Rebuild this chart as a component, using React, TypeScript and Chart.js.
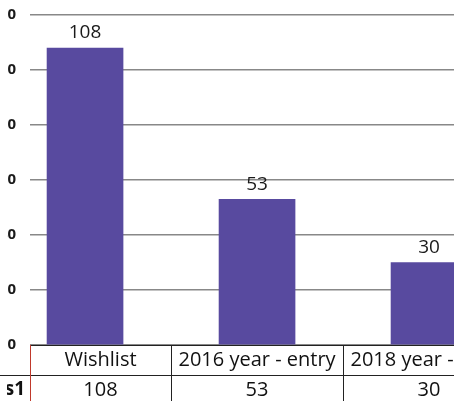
import React, { useEffect, useRef } from "react";
import { Chart, registerables } from "chart.js";

Chart.register(...registerables);

const categories = ["Wishlist", "2016 year - entry", "2018 year - entry"];
const seriesName = "Series1";
const values = [108, 53, 30];
const yMin = 0;
const yMax = 120;
const yStep = 20;

const OFFSET = 46; // canvas shifted left so only the crop is visible
const CANVAS_W = 600;
const CANVAS_H = 401;
const FONT = "'Open Sans', Lato, sans-serif";
const BAR_COLOR = "#584a9f";

export default function App() {
  const ref = useRef<HTMLCanvasElement | null>(null);

  useEffect(() => {
    document.body.style.margin = "0";
    const canvas = ref.current;
    if (!canvas) return;

    const tablePlugin = {
      id: "dataTable",
      afterDatasetsDraw(chart: any) {
        const ctx = chart.ctx;
        const meta = chart.getDatasetMeta(0);
        ctx.save();
        ctx.fillStyle = "#1a1a1a";
        ctx.font = `19px ${FONT}`;
        ctx.textAlign = "center";
        ctx.textBaseline = "middle";
        meta.data.forEach((bar: any, i: number) => {
          ctx.fillText(String(values[i]), bar.x, bar.y - 15);
        });
        ctx.restore();
      },
      afterDraw(chart: any) {
        const ctx = chart.ctx;
        const area = chart.chartArea;
        const xs = chart.scales.x;
        const top = area.bottom;
        const row1 = top + 30;
        const bottom = CANVAS_H + 5;
        ctx.save();
        ctx.strokeStyle = "#222";
        ctx.lineWidth = 1;
        ctx.beginPath();
        ctx.moveTo(area.left, top + 0.5);
        ctx.lineTo(area.right, top + 0.5);
        ctx.moveTo(0, row1 + 0.5);
        ctx.lineTo(area.right, row1 + 0.5);
        categories.forEach((_, i) => {
          const bx = Math.round(xs.getPixelForValue(i + 0.5)) + 0.5;
          ctx.moveTo(bx, top);
          ctx.lineTo(bx, bottom);
        });
        ctx.stroke();
        ctx.strokeStyle = "#c0392b";
        ctx.beginPath();
        ctx.moveTo(Math.round(area.left) + 0.5, top);
        ctx.lineTo(Math.round(area.left) + 0.5, bottom);
        ctx.stroke();

        ctx.fillStyle = "#111";
        ctx.textBaseline = "middle";
        ctx.textAlign = "center";
        ctx.font = `20px ${FONT}`;
        categories.forEach((c, i) => {
          const l = Math.max(area.left, xs.getPixelForValue(i - 0.5));
          const r = xs.getPixelForValue(i + 0.5);
          const cx = (l + r) / 2;
          ctx.fillText(c, cx, top + 15);
          ctx.fillText(String(values[i]), cx, row1 + 15);
        });
        ctx.font = `bold 19px ${FONT}`;
        ctx.textAlign = "right";
        ctx.fillText(seriesName, OFFSET + 25, row1 + 15);
        ctx.restore();
      },
    };

    const chart = new Chart(canvas, {
      type: "bar",
      data: {
        datasets: [
          {
            label: seriesName,
            data: values.map((v, i) => ({ x: i, y: v })),
            backgroundColor: BAR_COLOR,
            barThickness: 76,
          },
        ],
      },
      options: {
        responsive: false,
        animation: false,
        devicePixelRatio: 1,
        layout: { padding: { left: 0, top: 15, right: 8, bottom: CANVAS_H - 345 } },
        plugins: { legend: { display: false }, tooltip: { enabled: false } },
        scales: {
          x: {
            type: "linear",
            display: false,
            offset: false,
            min: -0.32,
            max: 2.68,
            grid: { offset: false },
          },
          y: {
            min: yMin,
            max: yMax,
            ticks: {
              stepSize: yStep,
              padding: 14,
              color: "#1a1a1a",
              font: { family: FONT, size: 15, weight: "bold" },
            },
            grid: { color: "#888", lineWidth: 1.5, drawTicks: false },
            border: { display: false },
            afterFit(axis: any) {
              axis.width = OFFSET + 30;
              axis.paddingTop = 0;
              axis.paddingBottom = 0;
            },
          },
        },
      },
      plugins: [tablePlugin],
    });
    return () => chart.destroy();
  }, []);

  return (
    <div style={{ width: 454, height: 401, overflow: "hidden", position: "relative", background: "#fff" }}>
      <canvas
        ref={ref}
        width={CANVAS_W}
        height={CANVAS_H}
        style={{ position: "absolute", left: -OFFSET, top: 0, width: CANVAS_W, height: CANVAS_H }}
      />
      <div style={{ position: "absolute", left: 0, top: 0, width: 7, height: 373, background: "#fff" }} />
      <div style={{ position: "absolute", left: 0, top: 377, width: 7, height: 30, background: "#fff" }} />
    </div>
  );
}
